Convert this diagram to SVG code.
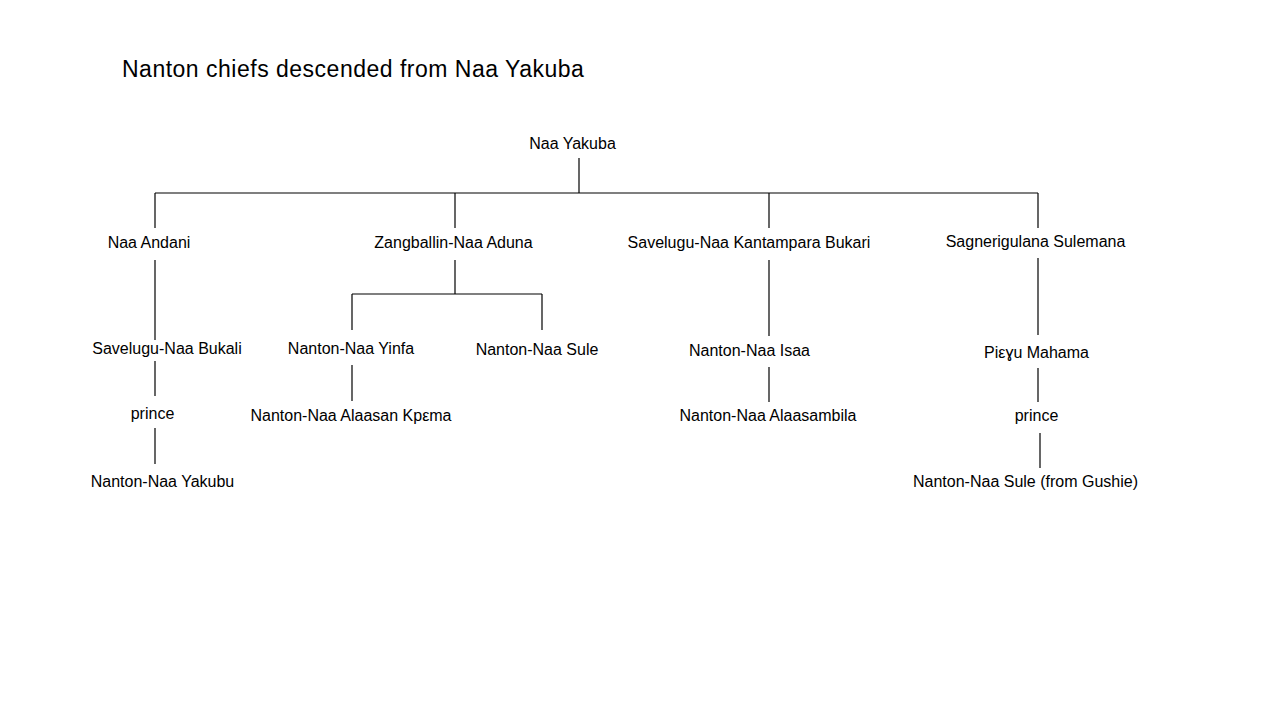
<svg xmlns="http://www.w3.org/2000/svg" width="1280" height="720" viewBox="0 0 1280 720">
<style>
  text { font-family: "Liberation Sans", Arial, sans-serif; fill: #000; }
  .lbl { font-size: 16px; text-anchor: middle; }
  .title { font-size: 23px; letter-spacing: 0.5px; }
  .conn line { stroke: #000; stroke-width: 1.2; fill: none; }
</style>
<rect width="1280" height="720" fill="#fff"/>
<text class="title" x="122" y="77">Nanton chiefs descended from Naa Yakuba</text>

<g id="connectors" class="conn">
  <line x1="579" y1="158" x2="579" y2="193"/>
  <line x1="155" y1="193" x2="1038" y2="193"/>
  <line x1="155" y1="193" x2="155" y2="228"/>
  <line x1="455" y1="193" x2="455" y2="228"/>
  <line x1="769" y1="193" x2="769" y2="228"/>
  <line x1="1038" y1="193" x2="1038" y2="228"/>
  <!-- Naa Andani branch -->
  <line x1="155" y1="260" x2="155" y2="340"/>
  <line x1="155" y1="361" x2="155" y2="396"/>
  <line x1="155" y1="428" x2="155" y2="464"/>
  <!-- Zangballin branch -->
  <line x1="455" y1="260" x2="455" y2="294"/>
  <line x1="352" y1="294" x2="542" y2="294"/>
  <line x1="352" y1="294" x2="352" y2="330"/>
  <line x1="542" y1="294" x2="542" y2="330"/>
  <line x1="352" y1="365" x2="352" y2="401"/>
  <!-- Kantampara branch -->
  <line x1="769" y1="260" x2="769" y2="336"/>
  <line x1="769" y1="367" x2="769" y2="402"/>
  <!-- Sagnerigulana branch -->
  <line x1="1038" y1="258" x2="1038" y2="335"/>
  <line x1="1038" y1="368" x2="1038" y2="402"/>
  <line x1="1040" y1="433" x2="1040" y2="468"/>
</g>

<g id="n-naa-yakuba"><text class="lbl" x="572.5" y="149">Naa Yakuba</text></g>
<g id="n-naa-andani"><text class="lbl" x="149" y="248">Naa Andani</text></g>
<g id="n-zangballin"><text class="lbl" x="453.5" y="248">Zangballin-Naa Aduna</text></g>
<g id="n-kantampara"><text class="lbl" x="749" y="248">Savelugu-Naa Kantampara Bukari</text></g>
<g id="n-sagnerigulana"><text class="lbl" x="1035.5" y="247">Sagnerigulana Sulemana</text></g>

<g id="n-savelugu-bukali"><text class="lbl" x="167" y="354">Savelugu-Naa Bukali</text></g>
<g id="n-prince-1"><text class="lbl" x="152.5" y="419">prince</text></g>
<g id="n-nanton-yakubu"><text class="lbl" x="162.5" y="487">Nanton-Naa Yakubu</text></g>

<g id="n-nanton-yinfa"><text class="lbl" x="351" y="354">Nanton-Naa Yinfa</text></g>
<g id="n-nanton-sule"><text class="lbl" x="537" y="355">Nanton-Naa Sule</text></g>
<g id="n-nanton-alaasan"><text class="lbl" x="351" y="421">Nanton-Naa Alaasan Kpεma</text></g>

<g id="n-nanton-isaa"><text class="lbl" x="749.5" y="356">Nanton-Naa Isaa</text></g>
<g id="n-nanton-alaasambila"><text class="lbl" x="768" y="421">Nanton-Naa Alaasambila</text></g>

<g id="n-pieyu-mahama"><text class="lbl" x="1036.5" y="358">Piεɣu Mahama</text></g>
<g id="n-prince-2"><text class="lbl" x="1036.5" y="421">prince</text></g>
<g id="n-nanton-sule-gushie"><text class="lbl" x="1025.5" y="487">Nanton-Naa Sule (from Gushie)</text></g>
</svg>
